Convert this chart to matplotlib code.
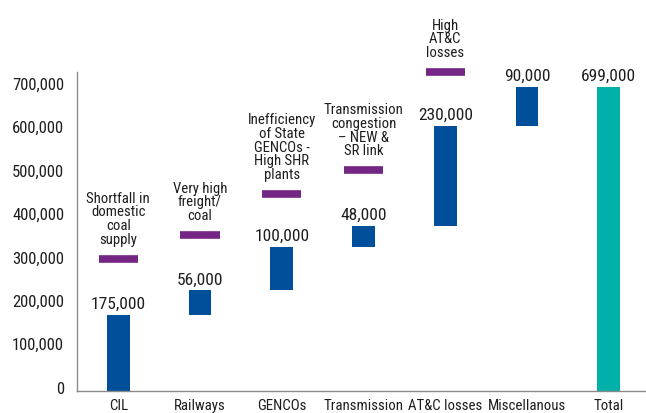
import matplotlib
matplotlib.use("Agg")
import matplotlib.pyplot as plt
from matplotlib.ticker import FuncFormatter
from matplotlib.transforms import ScaledTranslation

plt.rcParams['font.family'] = ['Roboto Condensed', 'DejaVu Sans']

categories = ['CIL', 'Railways', 'GENCOs', 'Transmission', 'AT&C losses', 'Miscellanous', 'Total']
values = [175000, 56000, 100000, 48000, 230000, 90000]
total = 699000
value_labels = ['175,000', '56,000', '100,000', '48,000', '230,000', '90,000', '699,000']

# purple markers with their notes (CIL .. AT&C losses)
marker_levels = [304000, 359000, 453000, 508000, 734000]
notes = ['Shortfall in\ndomestic\ncoal\nsupply',
         'Very high\nfreight/\ncoal',
         'Inefficiency\nof State\nGENCOs -\nHigh SHR\nplants',
         'Transmission\ncongestion\n\u2013 NEW &\nSR link',
         'High\nAT&C\nlosses']

blue = '#004f9b'
purple = '#732683'
teal = '#00b1a9'
grey = '#8a8a8a'
text_col = '#1e1e1e'

fig = plt.figure(figsize=(6.46, 4.14), dpi=100)
ax = fig.add_axes([0.1197, 0.0539, 0.886, 0.770])

x = list(range(len(categories)))
bottoms = []
run = 0
for v in values:
    bottoms.append(run)
    run += v

ax.bar(x[:-1], values, bottom=bottoms, width=0.28, color=blue)
ax.bar(x[-1], total, width=0.28, color=teal)

tops = [b + v for b, v in zip(bottoms, values)] + [total]
for xi, top, lab in zip(x, tops, value_labels):
    ax.annotate(lab, (xi, top), xytext=(0, 5), textcoords='offset points',
                ha='center', va='baseline', fontsize=12.5, color=text_col,
                annotation_clip=False)

for xi, lvl, note in zip(x, marker_levels, notes):
    ax.hlines(lvl, xi - 0.24, xi + 0.24, color=purple, linewidth=5.5,
              capstyle='butt', clip_on=False)
    ax.annotate(note, (xi, lvl), xytext=(0, 11.3), textcoords='offset points',
                ha='center', va='baseline', fontsize=10.6, linespacing=0.98,
                color=text_col, annotation_clip=False)

ax.set_xlim(-0.5, 6.5)
ax.set_ylim(0, 734000)
ax.set_yticks(range(0, 700001, 100000))
ax.yaxis.set_major_formatter(FuncFormatter(lambda v, p: f'{int(v):,}'))
ax.set_xticks(x)
ax.set_xticklabels(categories)
ax.tick_params(axis='y', length=0, pad=9.5, labelsize=12, labelcolor=text_col)
ax.tick_params(axis='x', length=0, pad=5, labelsize=10.7, labelcolor=text_col)

# y labels sit a little above their gridline level in the original
shift = ScaledTranslation(0, 4 / 100, fig.dpi_scale_trans)
for lab in ax.get_yticklabels():
    lab.set_transform(lab.get_transform() + shift)

for s in ['top', 'right']:
    ax.spines[s].set_visible(False)
for s in ['left', 'bottom']:
    ax.spines[s].set_color(grey)
    ax.spines[s].set_linewidth(1)

fig.savefig('out.png', dpi=100)
